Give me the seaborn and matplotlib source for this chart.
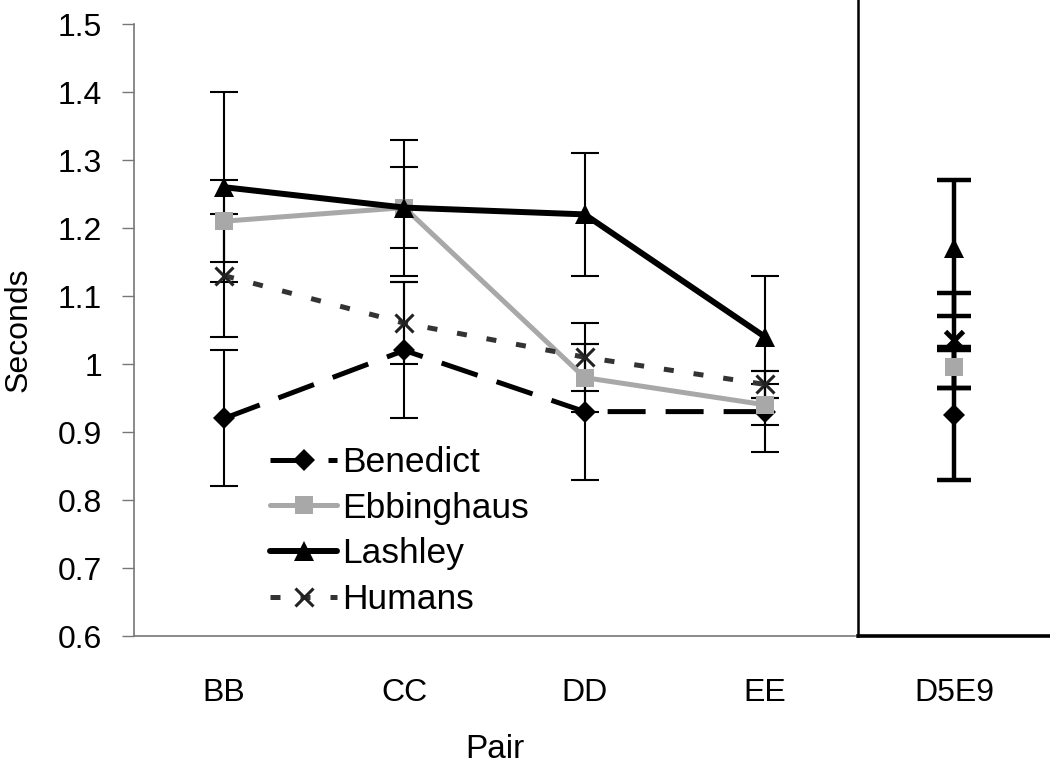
import numpy as np
import matplotlib
matplotlib.use("Agg")
import matplotlib.pyplot as plt
import seaborn as sns

# data
pairs = ["BB", "CC", "DD", "EE"]
benedict = [0.92, 1.02, 0.93, 0.93]
ebbinghaus = [1.21, 1.23, 0.98, 0.94]
lashley = [1.26, 1.23, 1.22, 1.04]
humans = [1.13, 1.06, 1.01, 0.97]

benedict_err = [0.10, 0.10, 0.10, 0.06]
ebbinghaus_err = [0.06, 0.06, 0.05, 0.03]
lashley_err = [0.14, 0.10, 0.09, 0.09]
humans_err = [0.09, 0.06, 0.05, 0.02]

# transfer pair
test_pair = "D5E9"
test_vals = {"Benedict": 0.925, "Ebbinghaus": 0.995, "Lashley": 1.17, "Humans": 1.035}
test_errs = {"Benedict": 0.095, "Ebbinghaus": 0.03, "Lashley": 0.10, "Humans": 0.07}

sns.set_style("white")
plt.rcParams["font.family"] = ["Liberation Sans", "DejaVu Sans"]
plt.rcParams["text.color"] = "black"
plt.rcParams["axes.labelcolor"] = "black"
plt.rcParams["xtick.labelcolor"] = "black"
plt.rcParams["ytick.labelcolor"] = "black"

styles = {
    "Benedict": dict(color="black", marker="D", markersize=11, lw=3.6,
                     linestyle=(0, (7.6, 4))),
    "Ebbinghaus": dict(color="#a8a8a8", marker="s", markersize=13, lw=3.6,
                       linestyle="-"),
    "Lashley": dict(color="black", marker="^", markersize=14, lw=4.3,
                    linestyle="-"),
    "Humans": dict(color="#333333", marker="x", markersize=13, lw=3.6,
                   linestyle=(0, (2, 4))),
}
series = {"Benedict": (benedict, benedict_err),
          "Ebbinghaus": (ebbinghaus, ebbinghaus_err),
          "Lashley": (lashley, lashley_err),
          "Humans": (humans, humans_err)}

fig = plt.figure(figsize=(10.5, 7.76), dpi=100)
ax = fig.add_axes([134 / 1050, 140 / 776, 721 / 1050, 612 / 776])
ax2 = fig.add_axes([858 / 1050, 140 / 776, 192 / 1050, 636 / 776])

x = np.arange(len(pairs))
for name, (vals, errs) in series.items():
    ax.errorbar(x, vals, yerr=errs, fmt="none", ecolor="black", elinewidth=1.5,
                capsize=10, capthick=1.5, zorder=2)
for name, (vals, errs) in series.items():
    st = dict(styles[name])
    if name == "Humans":
        st.update(markeredgewidth=2.2, markeredgecolor="#222222")
    else:
        st.update(markeredgewidth=0, markeredgecolor=st["color"])
    sns.lineplot(x=x, y=vals, ax=ax, label=name, errorbar=None,
                 dash_capstyle="butt", zorder=3, **st)

ax.set_xlim(-0.5, len(pairs) - 0.5)
ax.set_ylim(0.6, 1.5)
ax.set_yticks(np.arange(0.6, 1.51, 0.1))
ax.set_yticklabels(["0.6", "0.7", "0.8", "0.9", "1", "1.1", "1.2", "1.3", "1.4", "1.5"])
ax.set_xticks(np.arange(-0.5, len(pairs), 1.0))
ax.set_xticklabels([])
ax.set_xticks(x, minor=True)
ax.set_xticklabels(pairs, minor=True)
ax.tick_params(axis="x", which="major", length=9, width=1, color="#777777", direction="out")
ax.tick_params(axis="x", which="minor", length=0, pad=30, labelsize=23)
ax.tick_params(axis="y", length=9, width=1, color="#777777", pad=14, labelsize=23, left=True)
for s in ["top", "right"]:
    ax.spines[s].set_visible(False)
for s in ["left", "bottom"]:
    ax.spines[s].set_color("#777777")
    ax.spines[s].set_linewidth(1.2)
ax.set_xlabel("Pair", fontsize=24)
ax.xaxis.set_label_coords(0.5, -0.16)
ax.set_ylabel("Seconds", fontsize=23)
ax.yaxis.set_label_coords(-0.14, 0.5)

# D5E9 panel
for name in series:
    ax2.errorbar([0], [test_vals[name]], yerr=[test_errs[name]], fmt="none",
                 ecolor="black", elinewidth=3.2, capsize=12, capthick=3.2, zorder=2)
for name in series:
    st = dict(styles[name])
    st.pop("linestyle")
    st.pop("lw")
    if name == "Humans":
        st.update(markeredgewidth=3.5, markeredgecolor="black")
    else:
        st.update(markeredgewidth=0)
    ax2.plot([0], [test_vals[name]], linestyle="none", zorder=3, **st)
ax2.set_xlim(-1, 1)
ax2.set_ylim(0.6, 0.6 + 636 / 680)
ax2.set_yticks([])
ax2.set_xticks([0])
ax2.set_xticklabels([test_pair])
ax2.tick_params(axis="x", length=0, pad=30, labelsize=23)
for s in ["top", "right"]:
    ax2.spines[s].set_visible(False)
ax2.spines["left"].set_linewidth(1.8)
ax2.spines["left"].set_color("black")
ax2.spines["bottom"].set_linewidth(2.6)
ax2.spines["bottom"].set_color("black")
ax2.patch.set_alpha(0)

leg = ax.legend(loc="upper left", bbox_to_anchor=(270 / 1050, 1 - 446 / 776),
                bbox_transform=fig.transFigure, frameon=False, fontsize=25.5,
                handlelength=1.9, handletextpad=0.15, labelspacing=0.36,
                borderpad=0, borderaxespad=0)

fig.savefig("out.png", dpi=100)
